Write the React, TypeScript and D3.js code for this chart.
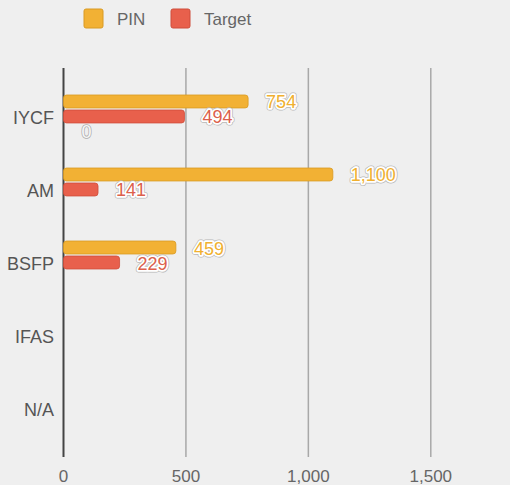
import React from "react";
import * as d3 from "d3";

const categories = ["IYCF", "AM", "BSFP", "IFAS", "N/A"];
const pinValues: (number | null)[] = [754, 1100, 459, null, null];
const targetValues: (number | null)[] = [494, 141, 229, null, null];
const extraValues: (number | null)[] = [0, null, null, null, null];
const xTicks = [0, 500, 1000, 1500];

const series = [
  { name: "PIN", values: pinValues, color: "#F2B134", stroke: "#d99a22", label: "#f0b030" },
  { name: "Target", values: targetValues, color: "#E8604C", stroke: "#cf4d3a", label: "#dc5f4c" },
  { name: "", values: extraValues, color: "#ffffff", stroke: "#cccccc", label: "#f7f7f7" },
];

const width = 510;
const height = 485;
const margin = { top: 68, right: 18, bottom: 28, left: 63.5 };

const App = () => {
  const x = d3
    .scaleLinear()
    .domain([0, 1750])
    .range([margin.left, width - margin.right]);

  const y = d3
    .scaleBand()
    .domain(categories)
    .range([margin.top, height - margin.bottom])
    .paddingOuter(0.164)
    .paddingInner(0);

  const inner = d3
    .scaleBand()
    .domain(series.map((s, i) => String(i)))
    .range([0, 45])
    .paddingInner(0.135)
    .paddingOuter(0.0675);

  const fmt = d3.format(",");
  const font = "'Liberation Sans', Arial, sans-serif";

  return (
    <div style={{ position: "fixed", left: 0, top: 0 }}>
      <svg width={width} height={height} style={{ display: "block", background: "#efefef", fontFamily: font }}>
        {/* legend */}
        {series.slice(0, 2).map((s, i) => {
          const lx = i === 0 ? 84 : 171;
          return (
            <g key={s.name}>
              <rect x={lx} y={9} width={19} height={19} rx={2} fill={s.color} stroke={s.stroke} strokeWidth={1} />
              <text x={lx + 33} y={25} fontSize={17} fill="#666">
                {s.name}
              </text>
            </g>
          );
        })}

        {/* grid */}
        {xTicks.map((t) => (
          <g key={t}>
            <line
              x1={x(t)}
              x2={x(t)}
              y1={margin.top}
              y2={height - margin.bottom}
              stroke={t === 0 ? "#444" : "#a8a8a8"}
              strokeWidth={t === 0 ? 2 : 1.5}
            />
            <text x={x(t)} y={height - 3} textAnchor="middle" fontSize={17} fill="#666">
              {fmt(t)}
            </text>
          </g>
        ))}

        {/* categories */}
        {categories.map((c) => (
          <text
            key={c}
            x={54}
            y={(y(c) as number) + y.bandwidth() / 2 + 1.5}
            textAnchor="end"
            dominantBaseline="central"
            fontSize={18}
            fill="#555"
          >
            {c}
          </text>
        ))}

        {/* bars */}
        {categories.map((c, ci) => {
          const band0 = (y(c) as number) + y.bandwidth() / 2 - 22.5;
          return series.map((s, si) => {
            const v = s.values[ci];
            if (v == null) return null;
            const by = band0 + (inner(String(si)) as number);
            const bh = inner.bandwidth();
            const w = x(v) - x(0);
            const lx = x(v) + 18;
            const ly = by + bh / 2 + 1;
            return (
              <g key={c + si}>
                {w > 0 && (
                  <rect
                    x={x(0)}
                    y={by}
                    width={w}
                    height={bh}
                    rx={3}
                    fill={s.color}
                    stroke={s.stroke}
                    strokeWidth={0.8}
                  />
                )}
                {si === 2 ? (
                  <text
                    x={lx}
                    y={ly}
                    fontSize={18}
                    dominantBaseline="central"
                    fill={s.label}
                    stroke="#b0b0b0"
                    strokeWidth={1.6}
                    paintOrder="stroke"
                  >
                    {fmt(v)}
                  </text>
                ) : (
                  <g fontSize={18} dominantBaseline="central">
                    <text x={lx} y={ly} fill="none" stroke="#b8b8b8" strokeWidth={5} strokeLinejoin="round">
                      {fmt(v)}
                    </text>
                    <text x={lx} y={ly} fill="none" stroke="#fff" strokeWidth={3.5} strokeLinejoin="round">
                      {fmt(v)}
                    </text>
                    <text x={lx} y={ly} fill={s.label}>
                      {fmt(v)}
                    </text>
                  </g>
                )}
              </g>
            );
          });
        })}
      </svg>
    </div>
  );
};

export default App;
